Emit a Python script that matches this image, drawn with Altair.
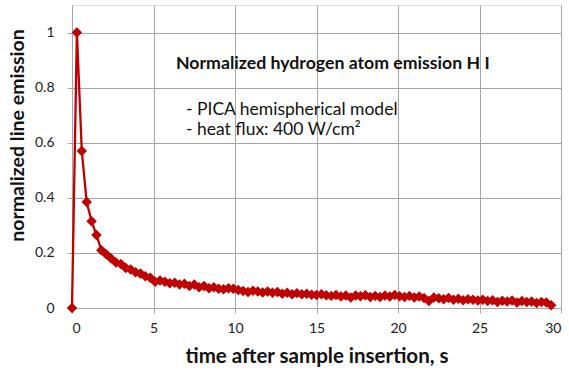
import altair as alt
import pandas as pd

times = [0.0, 0.3, 0.6, 0.9, 1.2, 1.5, 1.8, 2.1, 2.4, 2.7,
         3.0, 3.3, 3.6, 3.9, 4.2, 4.5, 4.8, 5.1, 5.4, 5.7,
         6.0, 6.3, 6.6, 6.9, 7.2, 7.5, 7.8, 8.1, 8.4, 8.7,
         9.0, 9.3, 9.6, 9.9, 10.2, 10.5, 10.8, 11.1, 11.4, 11.7,
         12.0, 12.3, 12.6, 12.9, 13.2, 13.5, 13.8, 14.1, 14.4, 14.7,
         15.0, 15.3, 15.6, 15.9, 16.2, 16.5, 16.8, 17.1, 17.4, 17.7,
         18.0, 18.3, 18.6, 18.9, 19.2, 19.5, 19.8, 20.1, 20.4, 20.7,
         21.0, 21.3, 21.6, 21.9, 22.2, 22.5, 22.8, 23.1, 23.4, 23.7,
         24.0, 24.3, 24.6, 24.9, 25.2, 25.5, 25.8, 26.1, 26.4, 26.7,
         27.0, 27.3, 27.6, 27.9, 28.2, 28.5, 28.8, 29.1, 29.4]

emission = [0.0, 1.0, 0.57, 0.385, 0.315, 0.265, 0.21, 0.195, 0.18, 0.165,
            0.16, 0.145, 0.14, 0.13, 0.125, 0.115, 0.11, 0.095, 0.1, 0.095,
            0.09, 0.092, 0.085, 0.088, 0.08, 0.085, 0.075, 0.08, 0.072, 0.075,
            0.07, 0.068, 0.072, 0.07, 0.065, 0.062, 0.058, 0.063, 0.06, 0.056,
            0.06, 0.055, 0.058, 0.052, 0.055, 0.05, 0.054, 0.05, 0.052, 0.048,
            0.047, 0.05, 0.046, 0.044, 0.047, 0.042, 0.045, 0.038, 0.045, 0.043,
            0.046, 0.04, 0.044, 0.04, 0.045, 0.042, 0.047, 0.043, 0.04, 0.044,
            0.038, 0.042, 0.036, 0.025, 0.038, 0.035, 0.032, 0.036, 0.03, 0.034,
            0.028, 0.032, 0.03, 0.027, 0.03, 0.025, 0.028, 0.022, 0.026, 0.024,
            0.027, 0.02, 0.025, 0.022, 0.024, 0.018, 0.022, 0.02, 0.01]

x_ticks = [0, 5, 10, 15, 20, 25, 30]
y_ticks = [0, 0.2, 0.4, 0.6, 0.8, 1]

title_text = "Normalized hydrogen atom emission H I"
note_lines = ["- PICA hemispherical model", "- heat flux: 400 W/cm\u00b2"]

FONT = "Lato"
RED = "#C00000"
GRID = "#A6A6A6"

df = pd.DataFrame({"t": times, "e": emission})

x_enc = alt.X("t:Q", scale=alt.Scale(domain=[0, 30], nice=False),
              axis=alt.Axis(values=x_ticks, title="time after sample insertion, s",
                            grid=True, gridColor=GRID, domainColor=GRID, tickColor=GRID,
                            tickSize=5, labelFontSize=14, labelColor="#222222",
                            labelPadding=8, titleFontSize=20.5, titleFontWeight="bold",
                            titleColor="#111111", titlePadding=11, labelFont=FONT, titleFont=FONT))
y_enc = alt.Y("e:Q", scale=alt.Scale(domain=[0, 1.1], nice=False),
              axis=alt.Axis(values=y_ticks, title="normalized line emission", format="~g",
                            grid=True, gridColor=GRID, domainColor=GRID, tickColor=GRID,
                            tickSize=5, labelFontSize=14, labelColor="#222222",
                            labelPadding=13, titleFontSize=19.5, titleFontWeight="bold",
                            titleColor="#111111", titlePadding=7, titleY=130,
                            labelFont=FONT, titleFont=FONT))

base = alt.Chart(df).encode(x=x_enc, y=y_enc)
line = base.mark_line(color=RED, strokeWidth=2.3)
pts = base.mark_point(shape="diamond", filled=True, color=RED, size=110, opacity=1)

title_mark = alt.Chart(pd.DataFrame({"txt": [title_text]})).mark_text(
    font=FONT, fontSize=17.7, fontWeight="bold", color="#111111", align="left", baseline="middle"
).encode(x=alt.value(104), y=alt.value(59), text="txt:N")

note1 = alt.Chart(pd.DataFrame({"txt": [note_lines[0]]})).mark_text(
    font=FONT, fontSize=17.5, color="#111111", align="left", baseline="middle"
).encode(x=alt.value(114), y=alt.value(105), text="txt:N")
note2 = alt.Chart(pd.DataFrame({"txt": [note_lines[1]]})).mark_text(
    font=FONT, fontSize=17.5, color="#111111", align="left", baseline="middle"
).encode(x=alt.value(114), y=alt.value(125), text="txt:N")

chart = alt.layer(line, pts, title_mark, note1, note2).properties(
    width=489, height=303,
    autosize=alt.AutoSizeParams(type="none"),
    padding={"left": 72, "top": 5, "right": 8, "bottom": 62},
).configure_view(stroke=None).configure(background="white")

chart.save("out.html", embed_options={"renderer": "svg", "actions": False})
